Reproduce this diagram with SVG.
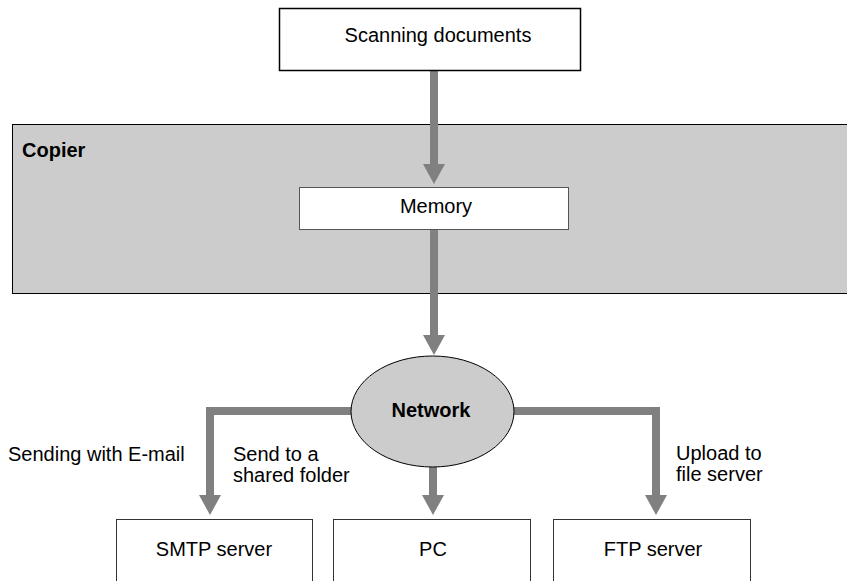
<svg xmlns="http://www.w3.org/2000/svg" width="847" height="581" viewBox="0 0 847 581">
<style>
text{font-family:"Liberation Sans",Arial,sans-serif;font-size:20px;fill:#000}
.b{font-weight:bold}
.m{text-anchor:middle}
.conn{fill:none;stroke:#808080;stroke-width:8;stroke-linejoin:miter}
.box{fill:#fff;stroke:#333;stroke-width:1}
</style>
<defs>
<marker id="ah" markerUnits="userSpaceOnUse" markerWidth="20" markerHeight="22" viewBox="0 0 20 22" refX="0" refY="11" orient="auto">
<path d="M0,0 L20,11 L0,22 Z" fill="#808080"/>
</marker>
</defs>
<g id="copier">
<rect x="12.5" y="124.5" width="850" height="169" fill="#cccccc" stroke="#000" stroke-width="1"/>
<text class="b" x="22" y="157">Copier</text>
</g>
<g id="connectors">
<path class="conn" d="M434,70 V164" marker-end="url(#ah)"/>
<path class="conn" d="M434,230 V335" marker-end="url(#ah)"/>
<path class="conn" d="M420,411 H210 V495" marker-end="url(#ah)"/>
<path class="conn" d="M440,411 H656 V495" marker-end="url(#ah)"/>
<path class="conn" d="M433,440 V495" marker-end="url(#ah)"/>
</g>
<g id="scanning">
<rect x="279.5" y="8.5" width="301" height="62" fill="#fff" stroke="#000" stroke-width="1.5"/>
<text class="m" x="438" y="42">Scanning documents</text>
</g>
<g id="memory">
<rect x="299.5" y="187.5" width="269" height="42" fill="#fff" stroke="#555" stroke-width="1"/>
<text class="m" x="436" y="213">Memory</text>
</g>
<g id="network">
<ellipse cx="432.5" cy="411.5" rx="81.5" ry="55.5" fill="#cccccc" stroke="#000" stroke-width="1"/>
<text class="b m" x="431" y="417">Network</text>
</g>
<g id="labels">
<text x="8" y="461">Sending with E-mail</text>
<text x="233" y="461">Send to a</text>
<text x="233" y="482">shared folder</text>
<text x="676" y="460">Upload to</text>
<text x="676" y="481">file server</text>
</g>
<g id="smtp">
<rect class="box" x="116.5" y="519.5" width="196" height="80"/>
<text class="m" x="214" y="556">SMTP server</text>
</g>
<g id="pc">
<rect class="box" x="333.5" y="519.5" width="197" height="80"/>
<text class="m" x="433" y="556">PC</text>
</g>
<g id="ftp">
<rect class="box" x="553.5" y="519.5" width="197" height="80"/>
<text class="m" x="653" y="556">FTP server</text>
</g>
</svg>
